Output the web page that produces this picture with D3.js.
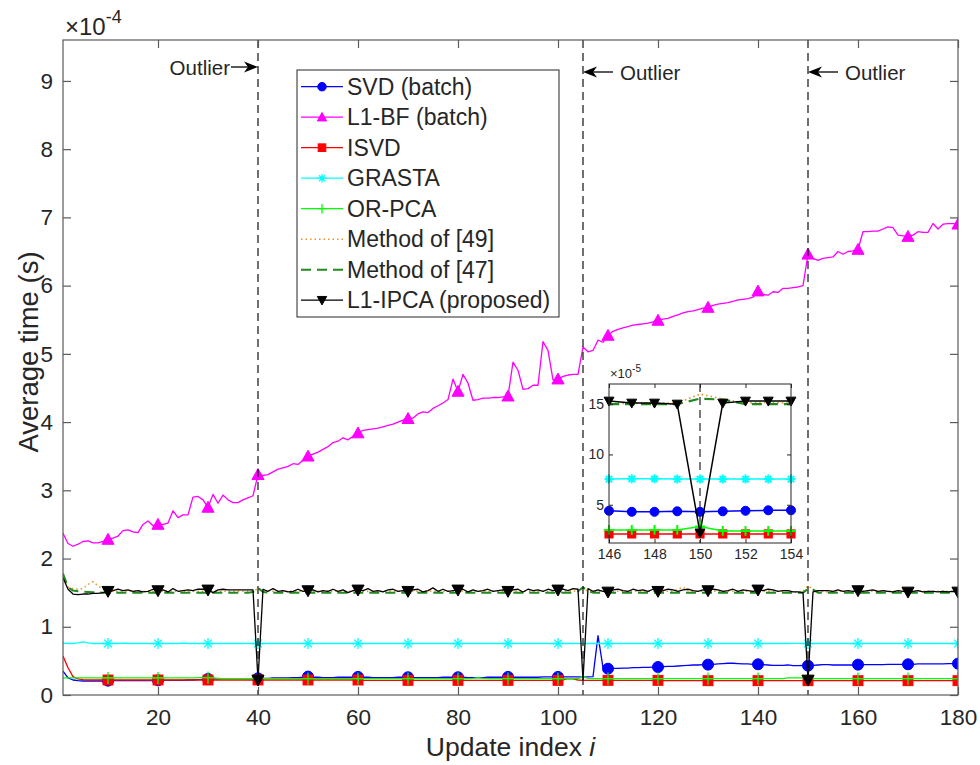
<!DOCTYPE html>
<html><head><meta charset="utf-8">
<script src="https://cdn.jsdelivr.net/npm/d3@7/dist/d3.min.js"></script>
<style>
body{margin:0;background:#fff}
svg{display:block}
text{font-family:"Liberation Sans",Arial,Helvetica,sans-serif;fill:#262626}
</style>
</head><body>
<svg id="chart" width="980" height="765"></svg>
<script>
// ---------------- DATA (values in units of 1e-4 s) ----------------
const updateIndex = d3.range(1, 181);
const xTicks = [20, 40, 60, 80, 100, 120, 140, 160, 180];
const yTicks = [0, 1, 2, 3, 4, 5, 6, 7, 8, 9];
const outlierIdx = [40, 105, 150];
const insetXTicks = [146, 148, 150, 152, 154];
const insetYTicks = [0.5, 1.0, 1.5];
const seriesNames = ["SVD (batch)", "L1-BF (batch)", "ISVD", "GRASTA", "OR-PCA", "Method of [49]", "Method of [47]", "L1-IPCA (proposed)"];

const svd = [0.35,0.25,0.22,0.21,0.205,0.205,0.205,0.205,0.205,0.21,
0.21,0.21,0.21,0.21,0.21,0.21,0.21,0.21,0.21,0.215,
0.215,0.215,0.215,0.215,0.215,0.22,0.22,0.225,0.23,0.235,
0.235,0.235,0.24,0.24,0.24,0.24,0.24,0.24,0.24,0.245,
0.245,0.245,0.25,0.25,0.25,0.25,0.255,0.255,0.26,0.27,
0.26,0.26,0.255,0.255,0.255,0.26,0.26,0.26,0.26,0.265,
0.26,0.26,0.255,0.255,0.255,0.255,0.255,0.26,0.26,0.26,
0.255,0.255,0.255,0.255,0.255,0.255,0.26,0.26,0.26,0.26,
0.26,0.255,0.255,0.255,0.255,0.26,0.26,0.26,0.26,0.265,
0.26,0.26,0.26,0.26,0.26,0.26,0.265,0.265,0.265,0.265,
0.265,0.265,0.265,0.265,0.26,0.265,0.27,0.87,0.40,0.385,
0.39,0.39,0.395,0.395,0.40,0.40,0.405,0.405,0.41,0.41,
0.415,0.42,0.42,0.425,0.43,0.435,0.44,0.44,0.445,0.445,
0.45,0.455,0.46,0.465,0.465,0.46,0.455,0.455,0.45,0.45,
0.445,0.44,0.435,0.435,0.435,0.44,0.43,0.43,0.435,0.43,
0.435,0.44,0.445,0.445,0.44,0.44,0.44,0.44,0.44,0.445,
0.445,0.445,0.445,0.445,0.445,0.45,0.45,0.45,0.45,0.45,
0.45,0.455,0.455,0.455,0.455,0.455,0.455,0.46,0.46,0.46];

const l1bf = [2.37,2.22,2.18,2.21,2.25,2.26,2.23,2.23,2.25,2.28,
2.30,2.33,2.41,2.42,2.39,2.38,2.50,2.55,2.48,2.50,
2.50,2.52,2.70,2.60,2.64,2.64,2.90,2.91,2.86,2.75,
2.94,2.81,2.93,2.86,2.82,2.82,2.86,2.89,2.92,3.23,
3.22,3.23,3.27,3.31,3.33,3.35,3.39,3.38,3.44,3.50,
3.53,3.56,3.60,3.64,3.70,3.72,3.77,3.74,3.79,3.84,
3.88,3.89,3.90,3.91,3.93,3.95,3.97,4.00,4.03,4.05,
4.06,4.12,4.15,4.14,4.20,4.24,4.28,4.33,4.63,4.45,
4.70,4.57,4.32,4.33,4.35,4.35,4.36,4.36,4.37,4.38,
4.88,4.76,4.48,4.49,4.54,4.54,5.18,5.05,4.62,4.63,
4.67,4.69,4.70,4.70,5.10,5.03,5.05,5.20,5.17,5.27,
5.33,5.36,5.38,5.40,5.42,5.43,5.44,5.45,5.47,5.49,
5.51,5.52,5.55,5.57,5.60,5.62,5.63,5.65,5.67,5.68,
5.71,5.73,5.74,5.75,5.77,5.79,5.80,5.81,5.83,5.92,
5.87,5.86,5.91,5.90,5.96,5.96,5.97,5.98,6.00,6.46,
6.40,6.37,6.40,6.41,6.42,6.50,6.46,6.50,6.51,6.53,
6.79,6.79,6.80,6.80,6.83,6.86,6.85,6.74,6.73,6.72,
6.74,6.79,6.78,6.78,6.91,6.83,6.90,6.91,6.91,6.90];

const isvd = [0.57,0.40,0.27,0.235,0.225,0.22,0.22,0.22,0.22,0.22,
0.22,0.22,0.22,0.22,0.22,0.22,0.22,0.22,0.22,0.22,
0.22,0.22,0.22,0.22,0.22,0.22,0.22,0.22,0.22,0.22,
0.22,0.22,0.22,0.22,0.22,0.22,0.22,0.22,0.22,0.22,
0.22,0.22,0.22,0.22,0.22,0.22,0.22,0.22,0.22,0.22,
0.22,0.22,0.22,0.22,0.22,0.22,0.22,0.22,0.22,0.22,
0.215,0.215,0.215,0.215,0.215,0.215,0.215,0.215,0.215,0.215,
0.215,0.215,0.215,0.215,0.215,0.215,0.215,0.215,0.215,0.215,
0.215,0.215,0.215,0.215,0.215,0.215,0.215,0.215,0.215,0.215,
0.215,0.215,0.215,0.215,0.215,0.215,0.215,0.215,0.215,0.215,
0.22,0.24,0.235,0.22,0.215,0.215,0.215,0.215,0.215,0.215,
0.215,0.215,0.215,0.215,0.215,0.215,0.215,0.215,0.215,0.215,
0.21,0.21,0.21,0.21,0.21,0.21,0.21,0.21,0.21,0.21,
0.21,0.21,0.21,0.21,0.21,0.21,0.21,0.21,0.21,0.21,
0.21,0.21,0.21,0.21,0.21,0.21,0.21,0.21,0.21,0.21,
0.21,0.21,0.21,0.21,0.21,0.21,0.21,0.21,0.21,0.21,
0.21,0.21,0.21,0.21,0.21,0.21,0.21,0.21,0.21,0.21,
0.21,0.21,0.21,0.21,0.21,0.21,0.21,0.21,0.21,0.21];

const grasta = [0.76,0.755,0.755,0.765,0.78,0.765,0.755,0.755,0.755,0.755,
0.755,0.755,0.76,0.755,0.755,0.755,0.755,0.755,0.755,0.755,
0.755,0.755,0.755,0.755,0.76,0.755,0.755,0.755,0.755,0.755,
0.755,0.755,0.755,0.755,0.755,0.755,0.755,0.755,0.755,0.755,
0.755,0.755,0.755,0.755,0.755,0.755,0.755,0.755,0.755,0.755,
0.755,0.755,0.755,0.755,0.755,0.755,0.755,0.755,0.755,0.755,
0.755,0.755,0.755,0.755,0.755,0.755,0.755,0.755,0.755,0.755,
0.755,0.755,0.755,0.755,0.755,0.755,0.755,0.755,0.755,0.755,
0.755,0.755,0.755,0.755,0.755,0.755,0.755,0.755,0.755,0.755,
0.755,0.755,0.755,0.755,0.755,0.755,0.755,0.755,0.755,0.755,
0.755,0.755,0.755,0.755,0.755,0.755,0.755,0.755,0.755,0.755,
0.755,0.755,0.755,0.755,0.755,0.755,0.755,0.755,0.755,0.755,
0.755,0.755,0.755,0.755,0.755,0.755,0.755,0.755,0.755,0.755,
0.755,0.755,0.755,0.755,0.755,0.755,0.755,0.755,0.755,0.755,
0.755,0.755,0.755,0.755,0.755,0.755,0.758,0.758,0.755,0.755,
0.755,0.755,0.755,0.755,0.755,0.755,0.755,0.755,0.755,0.755,
0.755,0.755,0.755,0.755,0.755,0.755,0.755,0.755,0.755,0.755,
0.755,0.755,0.755,0.755,0.755,0.755,0.755,0.755,0.755,0.755];

const orpca = [0.25,0.25,0.25,0.25,0.25,0.25,0.25,0.25,0.25,0.25,
0.25,0.25,0.25,0.25,0.25,0.25,0.25,0.25,0.25,0.25,
0.25,0.25,0.25,0.25,0.25,0.25,0.25,0.255,0.255,0.255,
0.25,0.245,0.24,0.24,0.24,0.24,0.24,0.24,0.24,0.25,
0.24,0.24,0.24,0.24,0.24,0.24,0.24,0.24,0.24,0.24,
0.24,0.24,0.24,0.24,0.24,0.24,0.24,0.24,0.24,0.24,
0.24,0.24,0.24,0.24,0.24,0.24,0.24,0.24,0.24,0.24,
0.24,0.24,0.24,0.24,0.24,0.24,0.24,0.24,0.24,0.24,
0.24,0.24,0.245,0.255,0.245,0.24,0.24,0.24,0.24,0.24,
0.24,0.24,0.24,0.24,0.24,0.24,0.24,0.24,0.24,0.24,
0.24,0.24,0.24,0.24,0.27,0.245,0.24,0.24,0.24,0.24,
0.24,0.24,0.24,0.24,0.24,0.24,0.24,0.24,0.24,0.24,
0.24,0.24,0.24,0.24,0.24,0.24,0.24,0.24,0.24,0.24,
0.24,0.24,0.24,0.24,0.24,0.24,0.24,0.24,0.24,0.24,
0.24,0.24,0.24,0.24,0.24,0.25,0.25,0.25,0.25,0.285,
0.24,0.24,0.24,0.24,0.24,0.24,0.24,0.24,0.24,0.24,
0.24,0.24,0.24,0.24,0.24,0.24,0.24,0.24,0.24,0.24,
0.24,0.24,0.24,0.24,0.24,0.24,0.24,0.24,0.24,0.24];

const m49 = [1.70,1.58,1.56,1.55,1.56,1.62,1.66,1.60,1.55,1.53,
1.52,1.52,1.52,1.52,1.52,1.52,1.52,1.52,1.52,1.52,
1.52,1.52,1.52,1.52,1.52,1.52,1.52,1.52,1.52,1.52,
1.52,1.52,1.52,1.52,1.52,1.52,1.52,1.52,1.52,1.56,
1.52,1.52,1.52,1.52,1.52,1.52,1.52,1.52,1.52,1.52,
1.52,1.52,1.52,1.52,1.52,1.52,1.52,1.52,1.52,1.52,
1.52,1.52,1.52,1.52,1.52,1.52,1.52,1.52,1.52,1.52,
1.52,1.52,1.52,1.52,1.52,1.52,1.52,1.52,1.52,1.52,
1.52,1.52,1.52,1.52,1.52,1.52,1.52,1.52,1.52,1.52,
1.52,1.52,1.52,1.52,1.52,1.52,1.52,1.52,1.52,1.52,
1.52,1.52,1.52,1.53,1.57,1.52,1.52,1.52,1.52,1.52,
1.52,1.52,1.52,1.52,1.52,1.52,1.52,1.52,1.52,1.52,
1.52,1.52,1.52,1.55,1.58,1.53,1.52,1.52,1.52,1.52,
1.52,1.52,1.52,1.52,1.52,1.52,1.52,1.52,1.52,1.52,
1.52,1.52,1.52,1.52,1.52,1.50,1.51,1.51,1.51,1.60,
1.55,1.51,1.52,1.51,1.52,1.52,1.52,1.52,1.52,1.52,
1.52,1.52,1.52,1.52,1.52,1.52,1.52,1.52,1.55,1.57,
1.53,1.52,1.52,1.52,1.52,1.52,1.52,1.52,1.52,1.52];

const m47 = [1.78,1.58,1.53,1.52,1.515,1.51,1.505,1.505,1.50,1.50,
1.50,1.50,1.50,1.50,1.50,1.50,1.50,1.50,1.50,1.50,
1.50,1.50,1.50,1.50,1.50,1.50,1.50,1.50,1.50,1.50,
1.50,1.50,1.50,1.50,1.50,1.50,1.50,1.50,1.51,1.57,
1.51,1.50,1.50,1.50,1.50,1.50,1.50,1.50,1.50,1.50,
1.50,1.50,1.50,1.50,1.50,1.50,1.50,1.50,1.50,1.50,
1.50,1.50,1.50,1.50,1.50,1.50,1.50,1.50,1.50,1.50,
1.50,1.50,1.50,1.50,1.50,1.50,1.50,1.50,1.50,1.50,
1.50,1.50,1.50,1.50,1.50,1.50,1.50,1.50,1.50,1.50,
1.50,1.50,1.50,1.50,1.50,1.50,1.50,1.50,1.50,1.50,
1.50,1.50,1.50,1.52,1.58,1.52,1.50,1.50,1.50,1.50,
1.50,1.50,1.50,1.50,1.50,1.50,1.50,1.50,1.50,1.50,
1.50,1.50,1.50,1.50,1.50,1.50,1.50,1.50,1.50,1.50,
1.50,1.50,1.50,1.50,1.50,1.50,1.50,1.50,1.50,1.50,
1.50,1.50,1.50,1.50,1.50,1.50,1.50,1.50,1.50,1.555,
1.545,1.50,1.50,1.50,1.50,1.50,1.50,1.50,1.50,1.50,
1.50,1.50,1.50,1.50,1.50,1.50,1.50,1.50,1.50,1.50,
1.50,1.50,1.50,1.50,1.50,1.50,1.50,1.50,1.50,1.50];

const l1ipca = [1.72,1.55,1.48,1.47,1.48,1.48,1.49,1.49,1.50,1.52,
1.53,1.55,1.53,1.54,1.52,1.53,1.51,1.52,1.55,1.53,
1.54,1.51,1.56,1.52,1.53,1.54,1.53,1.55,1.55,1.54,
1.50,1.54,1.55,1.54,1.54,1.54,1.54,1.54,1.54,0.22,
1.55,1.52,1.56,1.52,1.53,1.51,1.52,1.55,1.52,1.53,
1.54,1.51,1.53,1.52,1.55,1.52,1.54,1.50,1.53,1.54,
1.53,1.56,1.52,1.53,1.51,1.54,1.55,1.52,1.53,1.52,
1.54,1.55,1.51,1.53,1.57,1.52,1.55,1.52,1.53,1.54,
1.55,1.51,1.54,1.52,1.53,1.55,1.52,1.53,1.54,1.52,
1.54,1.55,1.51,1.55,1.53,1.54,1.52,1.55,1.53,1.54,
1.55,1.53,1.56,1.55,0.22,1.56,1.52,1.54,1.52,1.51,
1.54,1.55,1.53,1.52,1.55,1.53,1.54,1.52,1.55,1.52,
1.53,1.55,1.54,1.52,1.54,1.55,1.53,1.52,1.54,1.53,
1.55,1.54,1.52,1.53,1.55,1.52,1.54,1.53,1.52,1.54,
1.53,1.55,1.54,1.52,1.53,1.53,1.51,1.51,1.50,0.22,
1.51,1.53,1.53,1.53,1.52,1.54,1.52,1.53,1.52,1.53,
1.52,1.53,1.54,1.52,1.53,1.52,1.51,1.53,1.52,1.51,
1.52,1.53,1.51,1.52,1.52,1.51,1.52,1.51,1.52,1.51];

// ---------------- SETUP ----------------
const svg = d3.select("#chart");
const M = {left: 63, right: 958, top: 40, bottom: 695};
const x = d3.scaleLinear().domain([1, 180]).range([M.left, M.right]);
const y = d3.scaleLinear().domain([0, 9.6]).range([M.bottom, M.top]);
const axisColor = "#5a5a5a";

const series = [
  {name: seriesNames[0], data: svd,    color: "#0000ff", marker: "circle"},
  {name: seriesNames[1], data: l1bf,   color: "#ff00ff", marker: "triUp"},
  {name: seriesNames[2], data: isvd,   color: "#ff0000", marker: "square"},
  {name: seriesNames[3], data: grasta, color: "#00ffff", marker: "star"},
  {name: seriesNames[4], data: orpca,  color: "#00ff00", marker: "plus"},
  {name: seriesNames[5], data: m49,    color: "#e8962e", marker: null, dash: "1.5,3", width: 1.6},
  {name: seriesNames[6], data: m47,    color: "#1f8a1f", marker: null, dash: "10,6", width: 2},
  {name: seriesNames[7], data: l1ipca, color: "#000000", marker: "triDown"}
];

function drawMarker(g, type, cx, cy, s, color, sw) {
  sw = sw || 1.3;
  if (type === "circle") {
    g.append("circle").attr("cx", cx).attr("cy", cy).attr("r", s * 0.5).attr("fill", color).attr("stroke", color);
  } else if (type === "square") {
    const h = s * 0.45;
    g.append("rect").attr("x", cx - h).attr("y", cy - h).attr("width", 2 * h).attr("height", 2 * h).attr("fill", color).attr("stroke", color);
  } else if (type === "triUp" || type === "triDown") {
    const h = s * 0.55, sg = type === "triUp" ? 1 : -1;
    g.append("path").attr("d", `M${cx},${cy - sg * h}L${cx + h},${cy + sg * h * 0.8}L${cx - h},${cy + sg * h * 0.8}Z`)
      .attr("fill", color).attr("stroke", color).attr("stroke-linejoin", "round");
  } else if (type === "plus") {
    const h = s * 0.55;
    g.append("path").attr("d", `M${cx - h},${cy}H${cx + h}M${cx},${cy - h}V${cy + h}`).attr("stroke", color).attr("stroke-width", sw).attr("fill", "none");
  } else if (type === "star") {
    const h = s * 0.5, d = h * 0.7071;
    g.append("path").attr("d", `M${cx - h},${cy}H${cx + h}M${cx},${cy - h}V${cy + h}M${cx - d},${cy - d}L${cx + d},${cy + d}M${cx - d},${cy + d}L${cx + d},${cy - d}`)
      .attr("stroke", color).attr("stroke-width", sw).attr("fill", "none");
  }
}

// ---------------- MAIN LINES ----------------
const clip = svg.append("defs").append("clipPath").attr("id", "plotClip");
clip.append("rect").attr("x", M.left).attr("y", M.top).attr("width", M.right - M.left).attr("height", M.bottom - M.top);

const plot = svg.append("g").attr("clip-path", "url(#plotClip)");
const line = d3.line().x((d, i) => x(updateIndex[i])).y(d => y(d));

series.forEach(s => {
  plot.append("path").attr("d", line(s.data)).attr("fill", "none")
    .attr("stroke", s.color).attr("stroke-width", s.width || 1.3)
    .attr("stroke-dasharray", s.dash || null).attr("stroke-linejoin", "round");
  if (s.marker) {
    const mg = plot.append("g");
    updateIndex.forEach((xi, i) => {
      if (xi % 10 === 0) drawMarker(mg, s.marker, x(xi), y(s.data[i]), 11, s.color);
    });
  }
});

// vertical outlier lines
outlierIdx.forEach(o => {
  svg.append("line").attr("x1", x(o)).attr("x2", x(o)).attr("y1", M.top).attr("y2", M.bottom)
    .attr("stroke", "#111").attr("stroke-width", 1.2).attr("stroke-dasharray", "8,5");
});

// ---------------- AXES ----------------
svg.append("rect").attr("x", M.left).attr("y", M.top).attr("width", M.right - M.left).attr("height", M.bottom - M.top)
  .attr("fill", "none").attr("stroke", axisColor).attr("stroke-width", 1.2);

const xAxisB = d3.axisBottom(x).tickValues(xTicks).tickSize(-8).tickPadding(14).tickFormat(d3.format("d"));
const gxb = svg.append("g").attr("transform", `translate(0,${M.bottom})`).call(xAxisB);
const gxt = svg.append("g").attr("transform", `translate(0,${M.top})`).call(d3.axisTop(x).tickValues(xTicks).tickSize(-8).tickFormat(""));
const yAxisL = d3.axisLeft(y).tickValues(yTicks).tickSize(-8).tickPadding(10).tickFormat(d3.format("d"));
const gyl = svg.append("g").attr("transform", `translate(${M.left},0)`).call(yAxisL);
const gyr = svg.append("g").attr("transform", `translate(${M.right},0)`).call(d3.axisRight(y).tickValues(yTicks).tickSize(-8).tickFormat(""));
[gxb, gxt, gyl, gyr].forEach(g => {
  g.select(".domain").remove();
  g.selectAll(".tick line").attr("stroke", axisColor).attr("stroke-width", 1.2);
  g.selectAll("text").attr("font-size", 22.5).attr("fill", "#262626").style("font-family", "'Liberation Sans', Arial, sans-serif");
});

// exponent label
const expo = svg.append("text").attr("x", 65).attr("y", 35).attr("font-size", 24);
expo.append("tspan").text("\u00d710");
expo.append("tspan").attr("dy", -12).attr("font-size", 18).text("-4");

// axis labels
const xl = svg.append("text").attr("x", (M.left + M.right) / 2).attr("y", 756).attr("text-anchor", "middle").attr("font-size", 26.5);
xl.append("tspan").text("Update index ");
xl.append("tspan").attr("font-style", "italic").text("i");
svg.append("text").attr("transform", `translate(38,352) rotate(-90)`).attr("text-anchor", "middle").attr("font-size", 27.5).text("Average time (s)");

// ---------------- OUTLIER ANNOTATIONS ----------------
function arrow(x1, x2, yy) {
  const dir = Math.sign(x2 - x1);
  svg.append("line").attr("x1", x1).attr("x2", x2 - dir * 8).attr("y1", yy).attr("y2", yy).attr("stroke", "#000").attr("stroke-width", 1.3);
  svg.append("path").attr("d", `M${x2},${yy}L${x2 - dir * 14},${yy - 5.5}L${x2 - dir * 10},${yy}L${x2 - dir * 14},${yy + 5.5}Z`).attr("fill", "#000");
}
arrow(231, x(outlierIdx[0]), 67);
svg.append("text").attr("x", 230).attr("y", 75).attr("text-anchor", "end").attr("font-size", 20.5).attr("fill", "#000").text("Outlier");
arrow(613, x(outlierIdx[1]), 72);
svg.append("text").attr("x", 620).attr("y", 80).attr("font-size", 20.5).attr("fill", "#000").text("Outlier");
arrow(838, x(outlierIdx[2]), 72);
svg.append("text").attr("x", 845).attr("y", 80).attr("font-size", 20.5).attr("fill", "#000").text("Outlier");

// ---------------- LEGEND ----------------
const lg = svg.append("g");
lg.append("rect").attr("x", 297).attr("y", 70).attr("width", 262).attr("height", 247).attr("fill", "#fff").attr("stroke", "#262626").attr("stroke-width", 1);
series.forEach((s, k) => {
  const yy = 86.7 + k * 30.5;
  lg.append("line").attr("x1", 301).attr("x2", 343).attr("y1", yy).attr("y2", yy)
    .attr("stroke", s.color).attr("stroke-width", s.width || 1.3).attr("stroke-dasharray", s.dash || null);
  if (s.marker) drawMarker(lg, s.marker, 322, yy, 8.5, s.color);
  lg.append("text").attr("x", 347).attr("y", yy + 8).attr("font-size", 23).attr("fill", "#000").text(s.name);
});

// ---------------- INSET ----------------
const I = {left: 609, right: 791, top: 384, bottom: 543};
const xi = d3.scaleLinear().domain([146, 154]).range([I.left, I.right]);
const yi = d3.scaleLinear().domain([0.12, 1.70]).range([I.bottom, I.top]);
const ins = svg.append("g");
ins.append("rect").attr("x", I.left).attr("y", I.top).attr("width", I.right - I.left).attr("height", I.bottom - I.top).attr("fill", "#fff");
const iclip = svg.select("defs").append("clipPath").attr("id", "insetClip");
iclip.append("rect").attr("x", I.left - 6).attr("y", I.top - 6).attr("width", I.right - I.left + 12).attr("height", I.bottom - I.top + 12);
const ip = ins.append("g").attr("clip-path", "url(#insetClip)");
const iStart = updateIndex.indexOf(146), iEnd = updateIndex.indexOf(154);
ip.append("line").attr("x1", xi(150)).attr("x2", xi(150)).attr("y1", I.top).attr("y2", I.bottom)
  .attr("stroke", "#333").attr("stroke-width", 1.3).attr("stroke-dasharray", "8,5");
series.forEach(s => {
  const pts = [];
  for (let i = iStart; i <= iEnd; i++) pts.push([updateIndex[i], s.data[i]]);
  ip.append("path").attr("d", d3.line().x(d => xi(d[0])).y(d => yi(d[1]))(pts)).attr("fill", "none")
    .attr("stroke", s.color).attr("stroke-width", (s.width || 1.3) + 0.2).attr("stroke-dasharray", s.dash || null);
  if (s.marker) {
    const mg = ip.append("g");
    pts.forEach(p => drawMarker(mg, s.marker, xi(p[0]), yi(p[1]), 9, s.color, 2));
  }
});
ins.append("rect").attr("x", I.left).attr("y", I.top).attr("width", I.right - I.left).attr("height", I.bottom - I.top)
  .attr("fill", "none").attr("stroke", "#262626").attr("stroke-width", 1);
const gib = ins.append("g").attr("transform", `translate(0,${I.bottom})`).call(d3.axisBottom(xi).tickValues(insetXTicks).tickSize(-4).tickPadding(6).tickFormat(d3.format("d")));
const git = ins.append("g").attr("transform", `translate(0,${I.top})`).call(d3.axisTop(xi).tickValues(insetXTicks).tickSize(-4).tickFormat(""));
const gil = ins.append("g").attr("transform", `translate(${I.left},0)`).call(d3.axisLeft(yi).tickValues(insetYTicks).tickSize(-4).tickPadding(5).tickFormat(d => d3.format("d")(Math.round(d * 10))));
const gir = ins.append("g").attr("transform", `translate(${I.right},0)`).call(d3.axisRight(yi).tickValues(insetYTicks).tickSize(-4).tickFormat(""));
[gib, git, gil, gir].forEach(g => {
  g.select(".domain").remove();
  g.selectAll(".tick line").attr("stroke", "#262626");
  g.selectAll("text").attr("font-size", 14).attr("fill", "#262626").style("font-family", "'Liberation Sans', Arial, sans-serif");
});
const iexp = ins.append("text").attr("x", I.left + 1).attr("y", I.top - 6).attr("font-size", 13);
iexp.append("tspan").text("\u00d710");
iexp.append("tspan").attr("dy", -6).attr("font-size", 10).text("-5");
</script>
</body></html>
